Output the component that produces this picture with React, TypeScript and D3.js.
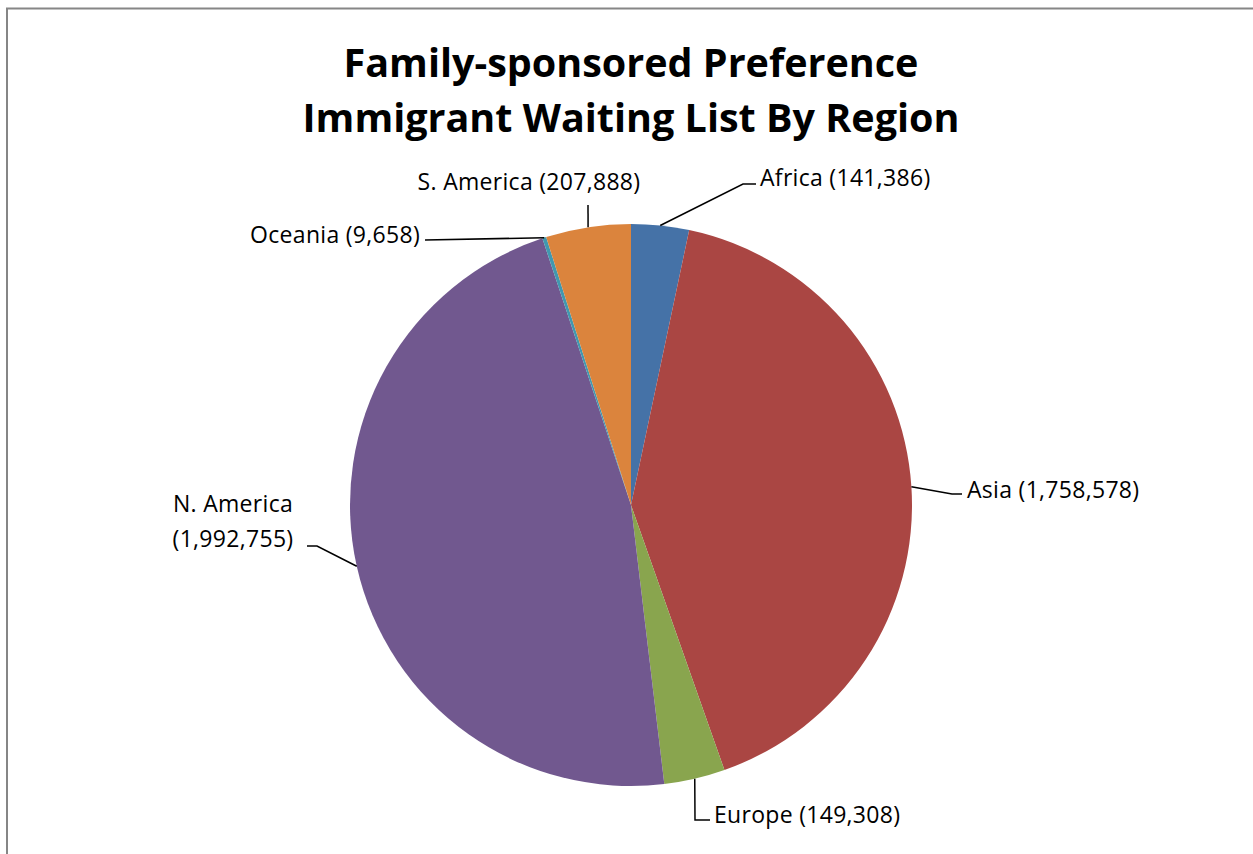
import React from "react";
import * as d3 from "d3";

const regions = ["Africa", "Asia", "Europe", "N. America", "Oceania", "S. America"];
const waiting = [141386, 1758578, 149308, 1992755, 9658, 207888];
const colors = ["#4572A7", "#AA4643", "#89A54E", "#71588F", "#4198AF", "#DB843D"];
const titleLines = ["Family-sponsored Preference", "Immigrant Waiting List By Region"];

// label layout: elbow point (dx,dy from center), text anchor, text offset
const labelLayout: Record<string, { elbow: [number, number]; end: [number, number]; anchor: string; tx: number; ty: number; lines?: number }> = {
  "Africa": { elbow: [112, -321], end: [125, -321], anchor: "start", tx: 129, ty: -319 },
  "Asia": { elbow: [321, -11], end: [331, -11], anchor: "start", tx: 336, ty: -7 },
  "Europe": { elbow: [64, 315], end: [79, 315], anchor: "start", tx: 83, ty: 318 },
  "N. America": { elbow: [-314, 41], end: [-324, 41], anchor: "middle", tx: -398, ty: 42, lines: 2 },
  "Oceania": { elbow: [-206, -265], end: [-206, -265], anchor: "end", tx: -211, ty: -262 },
  "S. America": { elbow: [-43, -300], end: [-43, -300], anchor: "middle", tx: -102, ty: -315 },
};

export default function App() {
  const W = 1253, H = 854;
  const cx = 631, cy = 505, r = 281;
  const data = regions.map((name, i) => ({ name, value: waiting[i], color: colors[i] }));
  const pie = d3.pie<any>().value((d: any) => d.value).sort(null);
  const arcs = pie(data);
  const arc = d3.arc<any>().innerRadius(0).outerRadius(r);
  const fmt = d3.format(",");
  const font = "Open Sans, sans-serif";
  const fs = 23;
  const ls = 0.3;
  return (
    <svg width={W} height={H} style={{ position: "absolute", left: 0, top: 0 }}>
      <rect x={0} y={0} width={W} height={H} fill="#fff" />
      <rect x={7} y={8.5} width={W + 20} height={H + 20} fill="none" stroke="#868686" strokeWidth={2} />
      {titleLines.map((t, i) => (
        <text key={i} x={631} y={77 + i * 55} textAnchor="middle" fontFamily={font} fontWeight="bold" fontSize={39.5} fill="#000">{t}</text>
      ))}
      <g transform={`translate(${cx},${cy})`}>
        {arcs.map((a, i) => (
          <path key={i} d={arc(a) as string} fill={a.data.color} />
        ))}
        {arcs.map((a, i) => {
          const mid = (a.startAngle + a.endAngle) / 2;
          const sx = Math.sin(mid) * r, sy = -Math.cos(mid) * r;
          const L = labelLayout[a.data.name];
          const label = `${a.data.name} (${fmt(a.data.value)})`;
          return (
            <g key={"l" + i}>
              <polyline points={`${sx},${sy} ${L.elbow[0]},${L.elbow[1]} ${L.end[0]},${L.end[1]}`} fill="none" stroke="#000" strokeWidth={1.5} />
              {L.lines === 2 ? (
                <text textAnchor="middle" fontFamily={font} fontSize={fs} letterSpacing={ls} fill="#000">
                  <tspan x={L.tx} y={L.ty - 35}>{a.data.name}</tspan>
                  <tspan x={L.tx} y={L.ty}>({fmt(a.data.value)})</tspan>
                </text>
              ) : (
                <text x={L.tx} y={L.ty} textAnchor={L.anchor as any} fontFamily={font} fontSize={fs} letterSpacing={ls} fill="#000">{label}</text>
              )}
            </g>
          );
        })}
      </g>
    </svg>
  );
}
